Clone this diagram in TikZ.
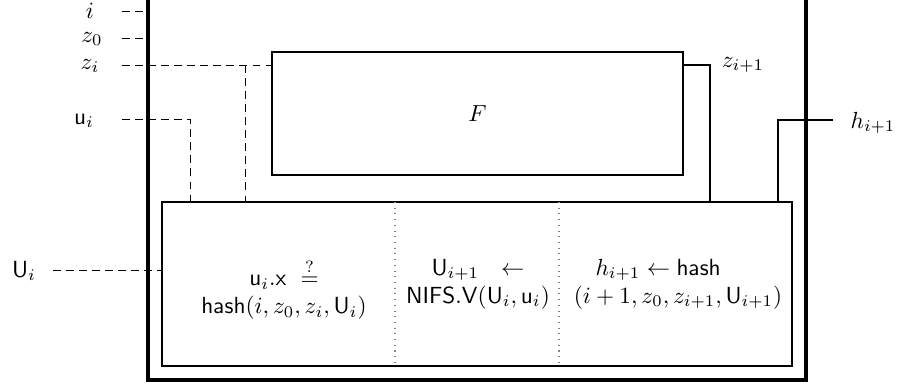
\documentclass[tikz,border=0pt]{standalone}
\usepackage{amsmath}
\usetikzlibrary{calc,fit}
\begin{document}
\begin{tikzpicture}[x=0.429pt,y=-0.429pt,
  every node/.style={inner sep=0pt, outer sep=0pt},
  thickbox/.style={draw, line width=1.3pt, inner sep=0pt},
  box/.style={draw, line width=0.45pt, inner sep=0pt},
  dsh/.style={line width=0.4pt, dash pattern=on 3.4pt off 2.2pt},
  wire/.style={line width=0.45pt},
  divider/.style={gray, dotted, line width=0.45pt},
  celltext/.style={align=center}]
\useasboundingbox (0,0) rectangle (900,385);
% boxes
\node (outer) [thickbox, fit={(148,-20) (806,380)}] {};
\node (F) [box, fit={(272,52) (683,175)}] {};
\node (Ft) at (F.center) {$F$};
\node (B) [box, fit={(162,202) (792,366)}] {};
% dividers
\coordinate (d1) at (395,0);
\coordinate (d2) at (559,0);
\draw[divider] (B.north -| d1) -- (B.south -| d1);
\draw[divider] (B.north -| d2) -- (B.south -| d2);
% cell texts
\node (c1) [celltext] at (284,289) {$\mathsf{u}_i.\mathsf{x}\ \stackrel{?}{=}$\\ $\mathsf{hash}(i, z_0, z_i, \mathsf{U}_i)$};
\node (c2) [celltext] at (478,284) {$\mathsf{U}_{i+1}\ \ \leftarrow$\\ $\mathsf{NIFS.V}(\mathsf{U}_i, \mathsf{u}_i)$};
\node (c3) [celltext] at (678,284) {$h_{i+1} \leftarrow \mathsf{hash}$\hspace*{17pt}\\ $(i+1, z_0, z_{i+1}, \mathsf{U}_{i+1})$};
% labels
\node (li) at (90,11) {$i$};
\node (lz0) at (92,39) {$z_0$};
\node (lzi) at (90,66) {$z_i$};
\node (lui) at (84,121) {$\mathsf{u}_i$};
\node (lUi) at (24,271) {$\mathsf{U}_i$};
\node (lz1) at (743,65) {$z_{i+1}$};
\node (lh1) at (873,123) {$h_{i+1}$};
% inputs
\coordinate (si) at (122,11);
\coordinate (sz0) at (122,38);
\coordinate (szi) at (122,65);
\coordinate (bzi) at (245,65);
\coordinate (sui) at (122,119);
\coordinate (tui) at (190,119);
\coordinate (sUi) at (53,270);
\draw[dsh] (si) -- (si -| outer.west);
\draw[dsh] (sz0) -- (sz0 -| outer.west);
\draw[dsh] (szi) -- (szi -| F.west);
\draw[dsh] (bzi) -- (bzi |- B.north);
\draw[dsh] (sui) -- (tui) -- (tui |- B.north);
\draw[dsh] (sUi) -- (sUi -| B.west);
% outputs
\coordinate (tz) at (710,65);
\coordinate (th) at (778,120);
\coordinate (eh) at (833,120);
\draw[wire] (F.east |- tz) -- (tz) -- (tz |- B.north);
\draw[wire] (th |- B.north) -- (th) -- (eh);
\end{tikzpicture}
\end{document}
